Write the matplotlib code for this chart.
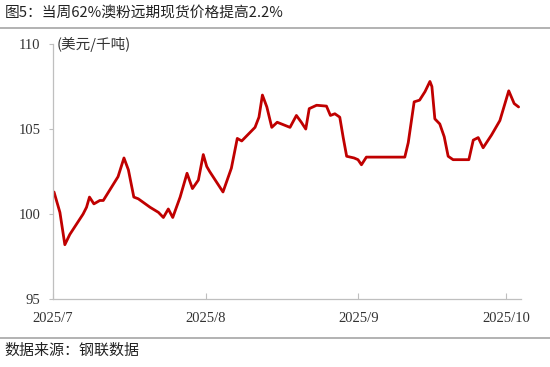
import matplotlib.pyplot as plt
from matplotlib.lines import Line2D
import pandas as pd

plt.rcParams['font.family'] = ['Noto Sans CJK SC', 'DejaVu Sans']

# days since 2025-07-01
days = [0.2, 1.4, 2.4, 3.4, 6.1, 6.8, 7.4, 8.3, 9.5, 10.2,
        13.2, 14.4, 15.3, 16.4, 17.3, 19.7, 21.4, 22.4, 23.4, 24.3,
        25.8, 27.2, 28.3, 29.5, 30.5, 31.2, 31.8, 34.5, 36.2, 37.4,
        38.3, 41.0, 41.8, 42.5, 43.4, 44.4, 45.5, 48.1, 49.4, 50.4,
        51.3, 52.0, 53.5, 55.5, 56.3, 57.2, 58.2, 58.9, 59.6, 61.1,
        61.9, 62.6, 63.6, 71.4, 72.1, 73.3, 74.4, 75.5, 76.5, 76.9,
        77.5, 78.5, 79.4, 80.2, 81.2, 83.2, 84.4, 85.3, 86.3, 87.3,
        89.0, 90.7, 92.5, 93.6, 94.5]
price = [101.3, 100.1, 98.2, 98.8, 100.0, 100.4, 101.0, 100.6, 100.8, 100.8,
         102.2, 103.3, 102.6, 101.0, 100.9, 100.4, 100.1, 99.8, 100.3, 99.8,
         101.0, 102.4, 101.5, 102.0, 103.5, 102.8, 102.5, 101.3, 102.7, 104.45,
         104.3, 105.1, 105.7, 107.0, 106.3, 105.1, 105.4, 105.1, 105.8, 105.4,
         105.0, 106.2, 106.4, 106.35, 105.8, 105.9, 105.7, 104.5, 103.4, 103.3,
         103.2, 102.9, 103.35, 103.35, 104.2, 106.6, 106.7, 107.2, 107.8, 107.5,
         105.6, 105.3, 104.55, 103.4, 103.2, 103.2, 103.2, 104.35, 104.5, 103.9,
         104.65, 105.5, 107.25, 106.5, 106.3]

month_ticks = ['2025-07-01', '2025-08-01', '2025-09-01', '2025-10-01']
month_labels = ['2025/7', '2025/8', '2025/9', '2025/10']
y_ticks = [95, 100, 105, 110]

start = pd.Timestamp('2025-07-01')
dates = start + pd.to_timedelta(days, unit='D')

fig = plt.figure(figsize=(5.5, 3.67), dpi=100)
ax = fig.add_axes([0.0964, 0.185, 0.851, 0.695])

ax.plot(dates, price, color='#C00000', lw=2.0, solid_joinstyle='round', solid_capstyle='round')

ax.set_ylim(95, 110)
ax.set_yticks(y_ticks)
ax.set_xlim(start, start + pd.Timedelta(days=95))
ax.set_xticks(pd.to_datetime(month_ticks))
ax.set_xticklabels(month_labels)

for s in ['top', 'right']:
    ax.spines[s].set_visible(False)
for s in ['left', 'bottom']:
    ax.spines[s].set_color('#bfbfbf')
    ax.spines[s].set_linewidth(0.9)

ax.tick_params(axis='y', direction='out', length=3, color='#bfbfbf', pad=6)
ax.tick_params(axis='x', direction='in', length=4, color='#bfbfbf', pad=9)
for lab in ax.get_xticklabels() + ax.get_yticklabels():
    lab.set_family('Liberation Serif')
    lab.set_fontsize(10.5)
    lab.set_color('#333333')

ax.text(0.008, 1.0, '(美元/千吨)', transform=ax.transAxes, fontsize=10.5,
        color='#333333', va='center', ha='left')

fig.text(0.008, 0.962, '图5：当周62%澳粉远期现货价格提高2.2%', fontsize=10.6,
         color='#222222', va='center', ha='left')
fig.text(0.008, 0.044, '数据来源：钢联数据', fontsize=10.8,
         color='#222222', va='center', ha='left')

fig.add_artist(Line2D([0, 1], [1 - 28 / 367] * 2, color='#a6a6a6', lw=1.2,
                      transform=fig.transFigure))
fig.add_artist(Line2D([0, 1], [1 - 338 / 367] * 2, color='#a6a6a6', lw=1.2,
                      transform=fig.transFigure))

plt.savefig('out.png', dpi=100)
